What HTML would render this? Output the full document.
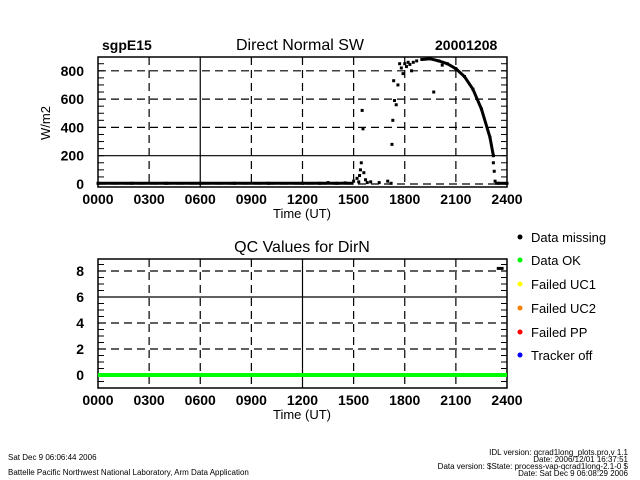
<!DOCTYPE html>
<html><head><meta charset="utf-8"><style>
body{margin:0;background:#fff;width:640px;height:480px;overflow:hidden}
svg{display:block}
text{font-family:"Liberation Sans",sans-serif;fill:#000}
</style></head><body>
<svg id="c" width="640" height="480"></svg>
<script>
const xTicks=["0000","0300","0600","0900","1200","1500","1800","2100","2400"];
const swYTicks=[0,200,400,600,800];
const qcYTicks=[0,2,4,6,8];
const swTimes=[0,2,4,6,8,10,12,13,13.5,14,14.5,15,15.2,15.3,15.35,15.4,15.45,15.5,15.55,15.6,15.7,15.8,16,16.5,17,17.2,17.25,17.3,17.35,17.4,17.5,17.6,17.7,17.8,17.9,18,18.1,18.2,18.3,18.4,18.5,18.7,19,19.5,19.7,20,20.2,20.5,21,21.5,22,22.5,23,23.2];
const swValues=[5,5,5,5,5,5,5,5,10,5,8,20,40,15,60,100,150,520,390,80,30,10,15,10,20,5,280,450,730,590,560,700,850,820,780,850,830,860,845,800,860,870,880,885,650,870,840,850,815,760,670,530,330,200];
const curveTimes=[19,19.5,20,20.5,21,21.5,22,22.5,23,23.2];
const curveValues=[880,885,870,850,815,760,670,530,330,200];
const tailTimes=[23.2,23.25,23.3,23.5,24];
const tailValues=[150,90,20,5,5];
const qcTimes=[0,24];
const qcValues=[0,0];
const qcMissingTimes=[23.4,23.8];
const qcMissingValues=[8.2,8.2];

const NS="http://www.w3.org/2000/svg";
const svg=document.getElementById('c');
function mk(tag,attrs,parent){const e=document.createElementNS(NS,tag);for(const k in attrs)e.setAttribute(k,attrs[k]);(parent||svg).appendChild(e);return e;}
const X0=98,X1=507;
function xs(h){return X0+h*(X1-X0)/24;}
function ysw(v){return 184-v*28.3/200;}
function yqc(v){return 375-v*13;}

function panel(name,top,bot,yf,yticks,solidY,solidXIdx,minor){
  const g=mk('g',{});
  
  
  xTicks.forEach((t,i)=>{
    if(i>0&&i<8){const x=xs(i*3);
      const l=mk('line',{x1:x,x2:x,y1:top,y2:bot,stroke:'#000','stroke-width':1.2,'stroke-dasharray':i===solidXIdx?'':'8,5'},g);
      
      }
    const tx=mk('text',{x:xs(i*3),y:bot+17,'font-size':14,'font-weight':'bold','text-anchor':'middle'},g);
    tx.textContent=t;
    
    
  });
  yticks.forEach(v=>{const y=yf(v);
    if(y>top+2&&y<bot-2){const l=mk('line',{x1:X0,x2:X1,y1:y,y2:y,stroke:'#000','stroke-width':1.2,'stroke-dasharray':v===solidY?'':'8,5'},g);
      
      }
    const tx=mk('text',{x:84,y:y+5,'font-size':14,'font-weight':'bold','text-anchor':'end'},g);
    tx.textContent=v;
    
    
  });
  for(let k=-1;k<40;k++){const v=yticks[0]+k*minor;const y=yf(v);if(y<=top)break;if(y>=bot)continue;
    mk('line',{x1:X0,x2:X0+6,y1:y,y2:y,stroke:'#000'},g);mk('line',{x1:X1-6,x2:X1,y1:y,y2:y,stroke:'#000'},g);}
  const r=mk('rect',{x:X0,y:top,width:X1-X0,height:bot-top,fill:'none',stroke:'#000','stroke-width':1.5},g);
  
  
  const xl=mk('text',{x:302,y:bot+31,'font-size':13,'text-anchor':'middle'},g);
  xl.textContent='Time (UT)';
  
  
}
panel('sw-panel',57,187,ysw,swYTicks,200,2,50);
panel('qc-panel',259,388,yqc,qcYTicks,6,4,0.5);

const base=mk('line',{x1:xs(0),x2:xs(15),y1:ysw(5),y2:ysw(5),stroke:'#000','stroke-width':3});


swTimes.forEach((t,i)=>{const r=mk('rect',{x:xs(t)-1.5,y:ysw(swValues[i])-1.5,width:3,height:3,fill:'#000'});
  
  });
const cv=mk('polyline',{points:curveTimes.map((t,i)=>xs(t)+','+ysw(curveValues[i])).join(' '),fill:'none',stroke:'#000','stroke-width':3});


tailTimes.forEach((t,i)=>{const r=mk('rect',{x:xs(t)-1.5,y:ysw(tailValues[i])-1.5,width:3,height:3,fill:'#000'});
  
  });
mk('line',{x1:xs(23.3),x2:xs(24),y1:ysw(5),y2:ysw(5),stroke:'#000','stroke-width':3});

const ql=mk('line',{x1:xs(qcTimes[0]),x2:xs(qcTimes[1]),y1:yqc(qcValues[0]),y2:yqc(qcValues[1]),stroke:'#00ff00','stroke-width':4});


const qm=mk('line',{x1:xs(qcMissingTimes[0]),x2:xs(qcMissingTimes[1]),y1:yqc(qcMissingValues[0]),y2:yqc(qcMissingValues[1]),stroke:'#000','stroke-width':3});


</script>
<svg width="640" height="480" style="position:absolute;left:0;top:0">
<text x="102" y="50" font-size="14" font-weight="bold">sgpE15</text>
<text x="300" y="50" font-size="16" text-anchor="middle">Direct Normal SW</text>
<text x="435" y="50" font-size="14" font-weight="bold">20001208</text>
<text x="0" y="0" font-size="13" text-anchor="middle" transform="translate(50,123) rotate(-90)">W/m2</text>
<text x="302" y="252" font-size="16" text-anchor="middle">QC Values for DirN</text>
<g font-size="13">
<circle cx="520" cy="237" r="2.5" fill="#000"/><text x="531" y="242">Data missing</text>
<circle cx="520" cy="260" r="2.5" fill="#00ff00"/><text x="531" y="265">Data OK</text>
<circle cx="520" cy="284" r="2.5" fill="#ffff00"/><text x="531" y="289">Failed UC1</text>
<circle cx="520" cy="308" r="2.5" fill="#ff8000"/><text x="531" y="313">Failed UC2</text>
<circle cx="520" cy="332" r="2.5" fill="#ff0000"/><text x="531" y="337">Failed PP</text>
<circle cx="520" cy="355" r="2.5" fill="#0000ff"/><text x="531" y="360">Tracker off</text>
</g>
<g font-size="8">
<text x="8" y="460">Sat Dec  9 06:06:44 2006</text>
<text x="8" y="475">Battelle Pacific Northwest National Laboratory, Arm Data Application</text>
<text x="628" y="455" text-anchor="end">IDL version: qcrad1long_plots.pro,v 1.1</text>
<text x="628" y="462" text-anchor="end">Date: 2006/12/01 16:37:51</text>
<text x="628" y="469" text-anchor="end">Data version: $State: process-vap-qcrad1long-2.1-0 $</text>
<text x="628" y="476" text-anchor="end">Date: Sat Dec  9 06:08:29 2006</text>
</g>
</svg>
</body></html>
